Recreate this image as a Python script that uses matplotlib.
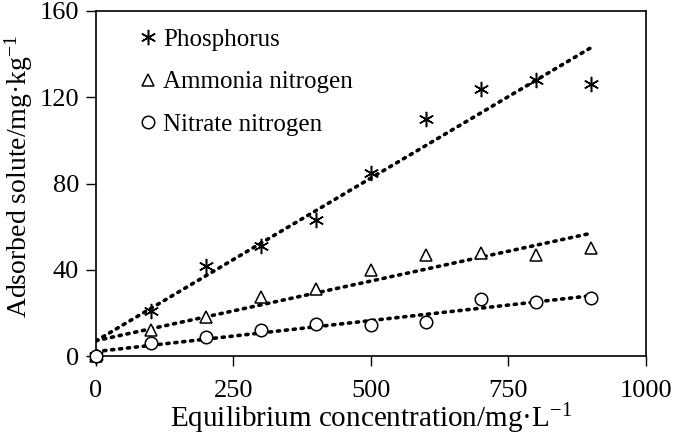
import numpy as np
import matplotlib.pyplot as plt

plt.rcParams['font.family'] = ['Liberation Serif', 'DejaVu Serif']
plt.rcParams['mathtext.fontset'] = 'custom'
plt.rcParams['mathtext.rm'] = 'Liberation Serif'

# Data
conc = [0, 100, 200, 300, 400, 500, 600, 700, 800, 900]
phosphorus = [0, 21, 42, 51, 63, 85, 110, 124, 128, 126]
ammonia = [0, 12, 18, 27.5, 31, 40, 47, 48, 47, 50]
nitrate = [0, 6, 8.7, 12.3, 15, 14.3, 16, 26.3, 25, 27]

x_ticks = [0, 250, 500, 750, 1000]
y_ticks = [0, 40, 80, 120, 160]

series = [
    ('Phosphorus', phosphorus, (6, 2, 0), 11),
    ('Ammonia nitrogen', ammonia, '^', 9),
    ('Nitrate nitrogen', nitrate, 'o', 9),
]

fig = plt.figure(figsize=(6.75, 4.37), dpi=100)
ax = fig.add_axes([0.142, 0.185, 0.815, 0.79])

x = np.array(conc, dtype=float)
for label, y, marker, ms in series:
    ax.plot(x, y, linestyle='none', marker=marker, markersize=ms,
            markerfacecolor='white' if marker != (6, 2, 0) else 'black',
            markeredgecolor='black', markeredgewidth=1.1,
            label=label, clip_on=False, zorder=3)
    # linear trendline fitted to the points
    k, b = np.polyfit(x, y, 1)
    xs = np.array([0, 900])
    ax.plot(xs, k * xs + b, color='black', linewidth=2.6,
            linestyle=(0, (0.6, 1.6)), dash_capstyle='round', zorder=2)

ax.set_xlim(0, 1000)
ax.set_ylim(0, 160)
ax.set_xticks(x_ticks)
ax.set_yticks(y_ticks)
ax.tick_params(direction='out', length=7, width=1, labelsize=19)
ax.tick_params(axis='x', pad=10)
ax.tick_params(axis='y', pad=5)
for side in ['left', 'bottom', 'right', 'top']:
    ax.spines[side].set_linewidth(1.2)

ax.set_xlabel(r'Equilibrium concentration/mg·L$\mathregular{^{-1}}$',
              fontsize=21, labelpad=0)
ax.set_ylabel(r'Adsorbed solute/mg·kg$\mathregular{^{-1}}$', fontsize=20)
ax.yaxis.set_label_coords(-0.11, 0.52)

ax.legend(loc='upper left', frameon=False, fontsize=18, handletextpad=0.1,
          handlelength=1.0, borderaxespad=0.3, labelspacing=0.8,
          bbox_to_anchor=(0.04, 1.0))

fig.savefig('out.png', dpi=100)
